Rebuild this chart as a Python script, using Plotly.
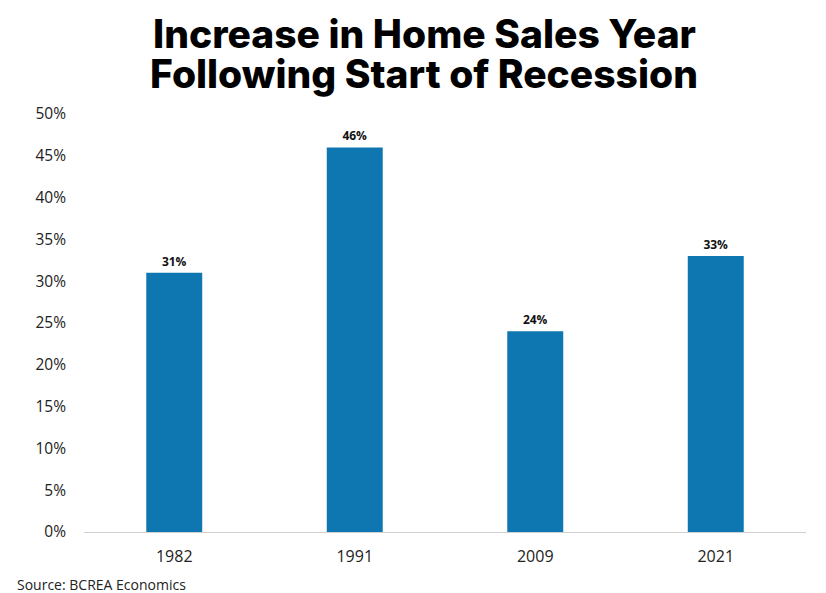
import plotly.graph_objects as go

years = ["1982", "1991", "2009", "2021"]
increase = [31, 46, 24, 33]
labels = ["31%", "46%", "24%", "33%"]
tick_vals = [0, 5, 10, 15, 20, 25, 30, 35, 40, 45, 50]
tick_text = ["0%", "5%", "10%", "15%", "20%", "25%", "30%", "35%", "40%", "45%", "50%"]
title_lines = ["Increase in Home Sales Year", "Following Start of Recession"]

W, H = 826, 593
pl, pr, pt, pb = 84, 20, 114, 61
pw, ph = W - pl - pr, H - pt - pb


def px_to_paper(x, y):
    return (x - pl) / pw, (H - pb - y) / ph


fig = go.Figure()
fig.add_trace(go.Bar(
    x=years, y=increase, width=0.31,
    marker=dict(color="#0E76B0", line=dict(width=0)),
    text=labels, textposition="outside",
    textfont=dict(family="Open Sans", size=12, color="#111111", weight="bold"),
    cliponaxis=False,
))

annots = []
for line, cy in zip(title_lines, [34, 74]):
    tx, ty = px_to_paper(424, cy)
    annots.append(dict(
        text=line, x=tx, y=ty, xref="paper", yref="paper", showarrow=False,
        xanchor="center", yanchor="middle",
        font=dict(family="Inter", size=39, color="#000000", weight=800),
    ))
sx, sy = px_to_paper(15, 584)
annots.append(dict(
    text="Source: BCREA Economics", x=sx, y=sy,
    xref="paper", yref="paper", showarrow=False, xanchor="left", yanchor="middle",
    font=dict(family="Open Sans", size=14, color="#222222"),
))

fig.update_layout(
    width=W, height=H,
    margin=dict(l=pl, r=pr, t=pt, b=pb),
    paper_bgcolor="white", plot_bgcolor="white",
    showlegend=False,
    xaxis=dict(
        showline=True, linecolor="#D0D0D0", linewidth=1,
        ticks="", tickfont=dict(family="Open Sans", size=16, color="#222222"),
        showgrid=False, ticklabelstandoff=10,
    ),
    yaxis=dict(
        range=[0, 50], tickvals=tick_vals, ticktext=tick_text,
        showgrid=False, zeroline=False, showline=False, ticks="",
        tickfont=dict(family="Open Sans", size=15.5, color="#222222"),
        ticklabelstandoff=17,
    ),
    annotations=annots,
)
fig.write_html("out.html")
